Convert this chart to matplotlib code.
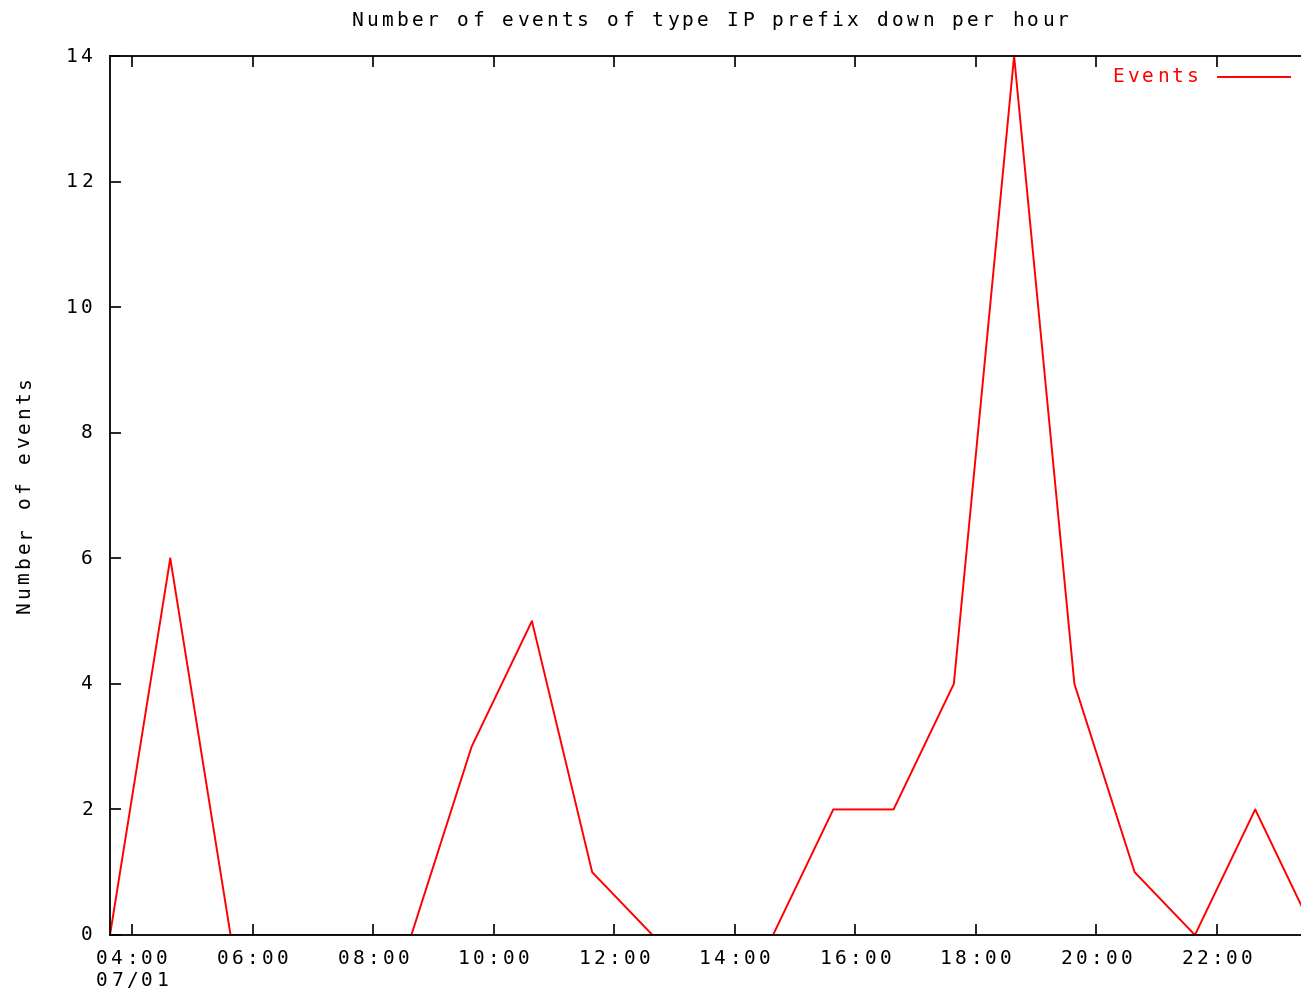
#!/usr/bin/python
# -*- coding: utf-8 -*-
import matplotlib
matplotlib.use("Agg")
import matplotlib.pyplot as plt
import matplotlib.transforms as mtrans
from matplotlib.lines import Line2D

# Hourly event counts (time stamps are start of each hourly bin)
times = ["03:38", "04:38", "05:38", "06:38", "07:38", "08:38", "09:38",
         "10:38", "11:38", "12:38", "13:38", "14:38", "15:38", "16:38",
         "17:38", "18:38", "19:38", "20:38", "21:38", "22:38", "23:38"]
events = [0, 6, 0, 0, 0, 0, 3, 5, 1, 0, 0, 0, 2, 2, 4, 14, 4, 1, 0, 2, 0]

tick_hours = [4, 6, 8, 10, 12, 14, 16, 18, 20, 22]
tick_labels = ["04:00", "06:00", "08:00", "10:00", "12:00",
               "14:00", "16:00", "18:00", "20:00", "22:00"]
date_label = "07/01"
y_ticks = [0, 2, 4, 6, 8, 10, 12, 14]

title = "Number of events of type IP prefix down per hour"
ylabel = "Number of events"
series_name = "Events"

RED = '#ff0000'
FS = 14      # font size (pt)
ADV = 15.0   # character advance in pixels (gnuplot-like wide spacing)
H = 991

def to_hours(s):
    h, m = s.split(":")
    return int(h) + int(m) / 60.0

x = [to_hours(t) for t in times]

plt.rcParams['font.family'] = ['DejaVu Sans Mono']

fig = plt.figure(figsize=(13.01, 9.91), dpi=100)
ax = fig.add_axes([110/1301., 1 - 935/991., 1 - 110/1301., (935 - 56)/991.])
ident = mtrans.IdentityTransform()

def spaced(xp, yp, s, ha='center', rot=0, color='black'):
    """Draw a string char by char with a fixed pixel advance.
    xp, yp are display pixels of the anchor (centre of text run)."""
    n = len(s)
    run = ADV * (n - 1)
    if ha == 'center':
        start = -run / 2.0
    elif ha == 'right':
        start = -run
    else:
        start = 0.0
    for i, ch in enumerate(s):
        d = start + i * ADV
        if rot == 90:
            px, py = xp, yp + d
        else:
            px, py = xp + d, yp
        fig.text(px, py, ch, transform=ident, ha='center', va='center',
                 rotation=rot, fontsize=FS, color=color)

ax.plot(x, events, color=RED, lw=1.4)

ax.set_xlim(x[0], 22 + 84/60.3)
ax.set_ylim(0, 14)
ax.set_xticks(tick_hours)
ax.set_yticks(y_ticks)
ax.tick_params(axis='x', direction='in', length=8, width=1.2, top=True,
               labelbottom=False)
ax.tick_params(axis='y', direction='in', length=8, width=1.2,
               labelleft=False)
for s in ['left', 'bottom', 'top']:
    ax.spines[s].set_linewidth(1.3)
ax.spines['right'].set_visible(False)

# tick labels
for h, lab in zip(tick_hours, tick_labels):
    px, _ = ax.transData.transform((h, 0))
    spaced(px, H - 958, lab)
px0, _ = ax.transData.transform((tick_hours[0], 0))
spaced(px0, H - 981, date_label)

for v in y_ticks:
    _, py = ax.transData.transform((0, v))
    spaced(87, py, str(v), ha='right')

# title and axis label
spaced(710, H - 20, title)
spaced(24, H - 495, ylabel, rot=90)

# legend key
spaced(1193, H - 77, series_name, ha='right', color=RED)
fig.add_artist(Line2D([1218, 1290], [H - 77, H - 77], transform=ident,
                      color=RED, lw=1.4))

fig.savefig("out.png", dpi=100)
